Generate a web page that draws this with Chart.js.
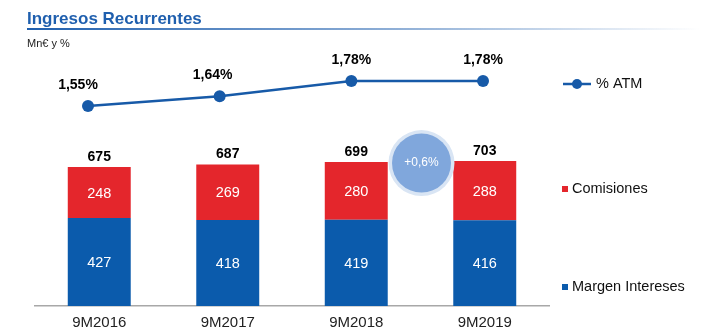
<!DOCTYPE html>
<html>
<head>
<meta charset="utf-8">
<script src="https://cdn.jsdelivr.net/npm/chart.js@4.4.1/dist/chart.umd.min.js"></script>
<style>
  html, body { margin: 0; padding: 0; background: #fff; }
  #wrap { position: relative; width: 720px; height: 335px; }
  canvas { display: block; }
</style>
</head>
<body>
<div id="wrap"><canvas id="c" width="720" height="335"></canvas></div>
<script>
// Periods and series (Mn€ and % ATM)
const periods = ['9M2016', '9M2017', '9M2018', '9M2019'];
const margenIntereses = [427, 418, 419, 416];
const comisiones = [248, 269, 280, 288];
const totals = [675, 687, 699, 703];
const atm = [1.55, 1.64, 1.78, 1.78];
const growthLabel = '+0,6%';

const BLUE = '#0b5bac';
const RED = '#e4262c';
const LINE = '#175aa8';
const FONT = '"Liberation Sans", Arial, sans-serif';

const fmtPct = v => v.toFixed(2).replace('.', ',') + '%';

// Title, subtitle, legend, value labels and the growth bubble
const decorations = {
  id: 'decorations',
  afterDatasetsDraw(chart) {
    const ctx = chart.ctx;
    const xs = chart.scales.x;
    const ys = chart.scales.y;
    ctx.save();

    // Title with fading underline
    ctx.fillStyle = '#1f5fae';
    ctx.font = 'bold 17px ' + FONT;
    ctx.textBaseline = 'alphabetic';
    ctx.textAlign = 'left';
    ctx.fillText('Ingresos Recurrentes', 27, 24);
    const g = ctx.createLinearGradient(27, 0, 700, 0);
    g.addColorStop(0, 'rgba(31,95,174,1)');
    g.addColorStop(0.6, 'rgba(31,95,174,0.45)');
    g.addColorStop(1, 'rgba(31,95,174,0)');
    ctx.fillStyle = g;
    ctx.fillRect(27, 28, 673, 2);

    ctx.fillStyle = '#222';
    ctx.font = '11px ' + FONT;
    ctx.fillText('Mn\u20ac y %', 27, 47);

    // Segment labels (white, centred in each segment)
    ctx.textAlign = 'center';
    ctx.textBaseline = 'middle';
    ctx.font = '14.5px ' + FONT;
    ctx.fillStyle = '#fff';
    [0, 1].forEach(di => {
      const meta = chart.getDatasetMeta(di);
      const data = chart.data.datasets[di].data;
      meta.data.forEach((bar, i) => {
        const mid = (bar.y + bar.base) / 2;
        ctx.fillText(String(data[i]), bar.x, mid + 1);
      });
    });

    // Totals above stacks
    ctx.fillStyle = '#000';
    ctx.font = 'bold 14px ' + FONT;
    totals.forEach((t, i) => {
      ctx.fillText(String(t), xs.getPixelForValue(i), ys.getPixelForValue(t) - 10);
    });

    // % ATM labels above points
    const lm = chart.getDatasetMeta(2);
    lm.data.forEach((pt, i) => {
      ctx.fillText(fmtPct(atm[i]), pt.x - (i === 0 ? 10 : i === 1 ? 7 : 0), pt.y - 21);
    });

    // Growth bubble between the last two periods
    const bx = (xs.getPixelForValue(2) + xs.getPixelForValue(3)) / 2 + 1;
    const by = ys.getPixelForValue(694);
    ctx.beginPath();
    ctx.arc(bx, by, 33, 0, Math.PI * 2);
    ctx.fillStyle = '#d9e5f4';
    ctx.fill();
    ctx.beginPath();
    ctx.arc(bx, by, 29.5, 0, Math.PI * 2);
    ctx.fillStyle = '#80a7dc';
    ctx.fill();
    ctx.fillStyle = '#fff';
    ctx.font = '12px ' + FONT;
    ctx.fillText(growthLabel, bx, by);

    // Legend
    const lx = 562;
    ctx.strokeStyle = LINE;
    ctx.lineWidth = 2.5;
    ctx.beginPath();
    ctx.moveTo(lx + 1, 84);
    ctx.lineTo(lx + 29, 84);
    ctx.stroke();
    ctx.beginPath();
    ctx.arc(lx + 15, 84, 5, 0, Math.PI * 2);
    ctx.fillStyle = LINE;
    ctx.fill();
    ctx.fillStyle = '#111';
    ctx.font = '14.5px ' + FONT;
    ctx.textAlign = 'left';
    ctx.fillText('% ATM', lx + 34, 84);

    ctx.fillStyle = RED;
    ctx.fillRect(lx, 186, 6, 6);
    ctx.fillStyle = '#111';
    ctx.fillText('Comisiones', lx + 10, 189);

    ctx.fillStyle = BLUE;
    ctx.fillRect(lx, 284, 6, 6);
    ctx.fillStyle = '#111';
    ctx.fillText('Margen Intereses', lx + 10, 287);

    ctx.restore();
  }
};

const barStyle = { stack: 's', yAxisID: 'y', order: 2, grouped: false, categoryPercentage: 1, barPercentage: 0.49 };

new Chart(document.getElementById('c'), {
  type: 'bar',
  data: {
    labels: periods,
    datasets: [
      Object.assign({ label: 'Margen Intereses', data: margenIntereses, backgroundColor: BLUE }, barStyle),
      Object.assign({ label: 'Comisiones', data: comisiones, backgroundColor: RED }, barStyle),
      { type: 'line', label: '% ATM', data: atm.map((v, i) => ({ x: i, y: v })),
        xAxisID: 'xLine', yAxisID: 'y1', order: 1,
        borderColor: LINE, backgroundColor: LINE, borderWidth: 2.5,
        pointRadius: 6, pointBackgroundColor: LINE, pointBorderWidth: 0, tension: 0 }
    ]
  },
  options: {
    responsive: false,
    animation: false,
    devicePixelRatio: 1,
    layout: { padding: { left: 35, right: 171, top: 40, bottom: 0 } },
    plugins: { legend: { display: false }, tooltip: { enabled: false }, title: { display: false } },
    scales: {
      x: {
        stacked: true,
        grid: { display: false, drawTicks: false },
        border: { display: true, color: '#a8a8a8', width: 1.5 },
        ticks: { color: '#222', font: { family: FONT, size: 15 }, padding: 8 },
        afterFit(scale) { scale.height = 29; }
      },
      // index axis for the % ATM line, slightly tighter than the bar slots
      xLine: { type: 'linear', display: false, offset: false, min: -0.4025, max: 3.501 },
      y: { stacked: true, display: false, min: 0, max: 1292 },
      y1: { display: false, min: -0.29, max: 2.157 }
    }
  },
  plugins: [decorations]
});
</script>
</body>
</html>
